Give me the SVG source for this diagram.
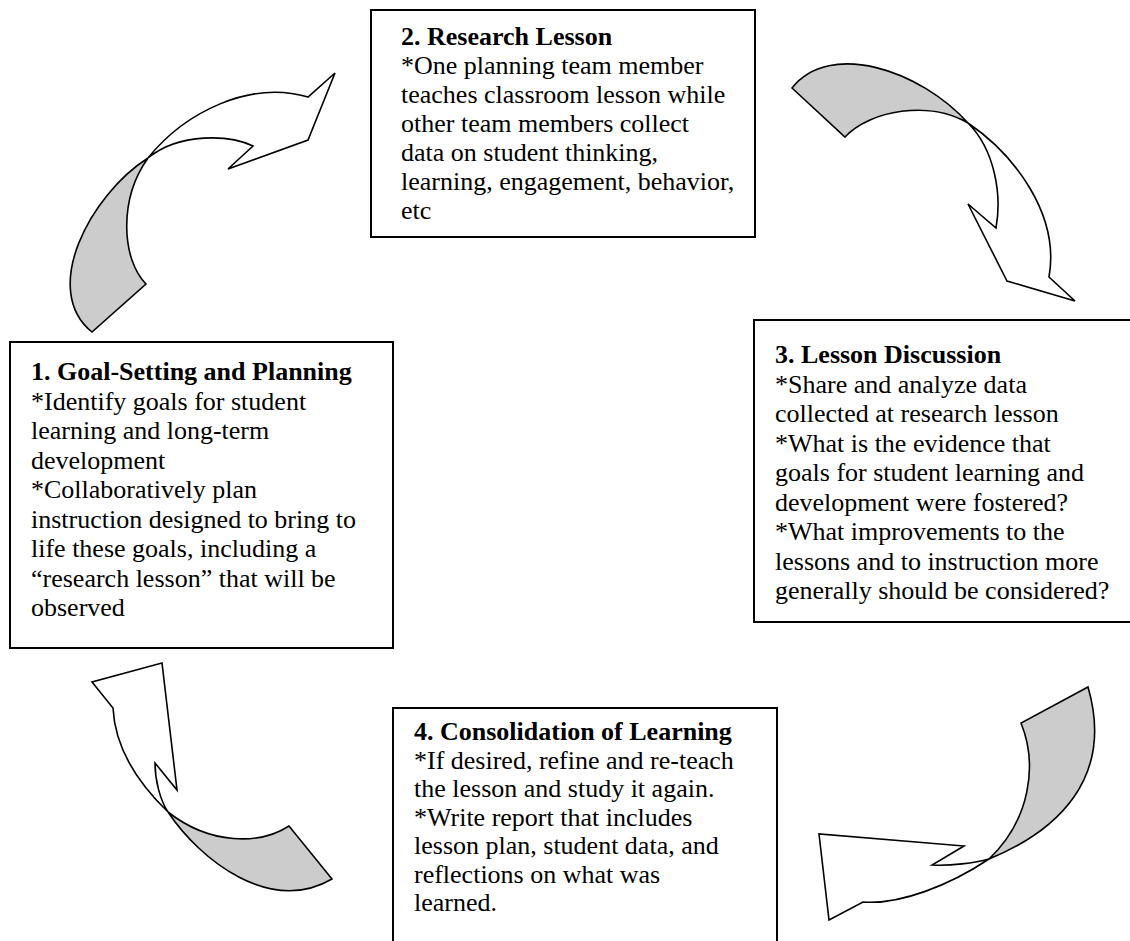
<svg xmlns="http://www.w3.org/2000/svg" width="1130" height="941" viewBox="0 0 1130 941">
<style>
  .box { fill: #ffffff; stroke: #000000; stroke-width: 2; }
  .t { font-family: "Liberation Serif", "Times New Roman", serif; font-size: 26px; fill: #000000; }
  .b { font-weight: bold; }
  .front { fill: #ffffff; stroke: #000000; stroke-width: 1.6; stroke-linejoin: miter; }
  .back { fill: #cccccc; stroke: #000000; stroke-width: 1.6; stroke-linejoin: miter; }
</style>
<rect width="1130" height="941" fill="#ffffff"/>

<g id="connectors">
  <g id="arrow-1-2">
    <path class="back" d="M148,158 C90,195 40,290 92,332 L146,284 C122,260 118,200 148,158 Z"/>
    <path class="front" d="M148,158 C185,112 250,80 308,97 L335,73 L308,140 L228,169 L253,146 C230,135 180,132 148,158 Z"/>
  </g>
  <g id="arrow-2-3">
    <path class="back" d="M968,123 C920,70 830,40 792,88 L845,137 C870,110 930,100 968,123 Z"/>
    <path class="front" d="M968,123 C1015,155 1060,215 1049,277 L1075,301 L1007,281 L968,204 L996,228 C1002,195 995,150 968,123 Z"/>
  </g>
  <g id="arrow-3-4">
    <path class="back" d="M989,859 C1055,832 1115,780 1088,687 L1021,723 C1038,765 1030,820 989,859 Z"/>
    <path class="front" d="M989,859 C975,863 950,866 932,865 L964,846 L819,834 L829,920 L863,902 C900,905 950,885 989,859 Z"/>
  </g>
  <g id="arrow-4-1">
    <path class="back" d="M168,812 C200,860 270,915 332,879 L289,826 C260,845 210,845 168,812 Z"/>
    <path class="front" d="M168,812 C140,785 115,750 113,708 L92,682 L162,663 L177,790 L155,763 C155,780 160,800 168,812 Z"/>
  </g>
</g>

<g id="node-1">
  <rect class="box" x="10" y="342" width="383" height="306"/>
  <text class="t" x="31" y="380"><tspan class="b">1. Goal-Setting and Planning</tspan></text>
  <text class="t" x="31" y="409.5">*Identify goals for student</text>
  <text class="t" x="31" y="439">learning and long-term</text>
  <text class="t" x="31" y="468.5">development</text>
  <text class="t" x="31" y="498">*Collaboratively plan</text>
  <text class="t" x="31" y="527.5">instruction designed to bring to</text>
  <text class="t" x="31" y="557">life these goals, including a</text>
  <text class="t" x="31" y="586.5">“research lesson” that will be</text>
  <text class="t" x="31" y="616">observed</text>
</g>

<g id="node-2">
  <rect class="box" x="371" y="10" width="384" height="227"/>
  <text class="t" x="401" y="45"><tspan class="b">2. Research Lesson</tspan></text>
  <text class="t" x="401" y="74">*One planning team member</text>
  <text class="t" x="401" y="103">teaches classroom lesson while</text>
  <text class="t" x="401" y="132">other team members collect</text>
  <text class="t" x="401" y="161">data on student thinking,</text>
  <text class="t" x="401" y="190">learning, engagement, behavior,</text>
  <text class="t" x="401" y="219">etc</text>
</g>

<g id="node-3">
  <rect class="box" x="754" y="320" width="390" height="302"/>
  <text class="t" x="775" y="363"><tspan class="b">3. Lesson Discussion</tspan></text>
  <text class="t" x="775" y="392.5">*Share and analyze data</text>
  <text class="t" x="775" y="422">collected at research lesson</text>
  <text class="t" x="775" y="451.5">*What is the evidence that</text>
  <text class="t" x="775" y="481">goals for student learning and</text>
  <text class="t" x="775" y="510.5">development were fostered?</text>
  <text class="t" x="775" y="540">*What improvements to the</text>
  <text class="t" x="775" y="569.5">lessons and to instruction more</text>
  <text class="t" x="775" y="599">generally should be considered?</text>
</g>

<g id="node-4">
  <rect class="box" x="393" y="708" width="384" height="250"/>
  <text class="t" x="414" y="740"><tspan class="b">4. Consolidation of Learning</tspan></text>
  <text class="t" x="414" y="768.5">*If desired, refine and re-teach</text>
  <text class="t" x="414" y="797">the lesson and study it again.</text>
  <text class="t" x="414" y="825.5">*Write report that includes</text>
  <text class="t" x="414" y="854">lesson plan, student data, and</text>
  <text class="t" x="414" y="882.5">reflections on what was</text>
  <text class="t" x="414" y="911">learned.</text>
</g>
</svg>
